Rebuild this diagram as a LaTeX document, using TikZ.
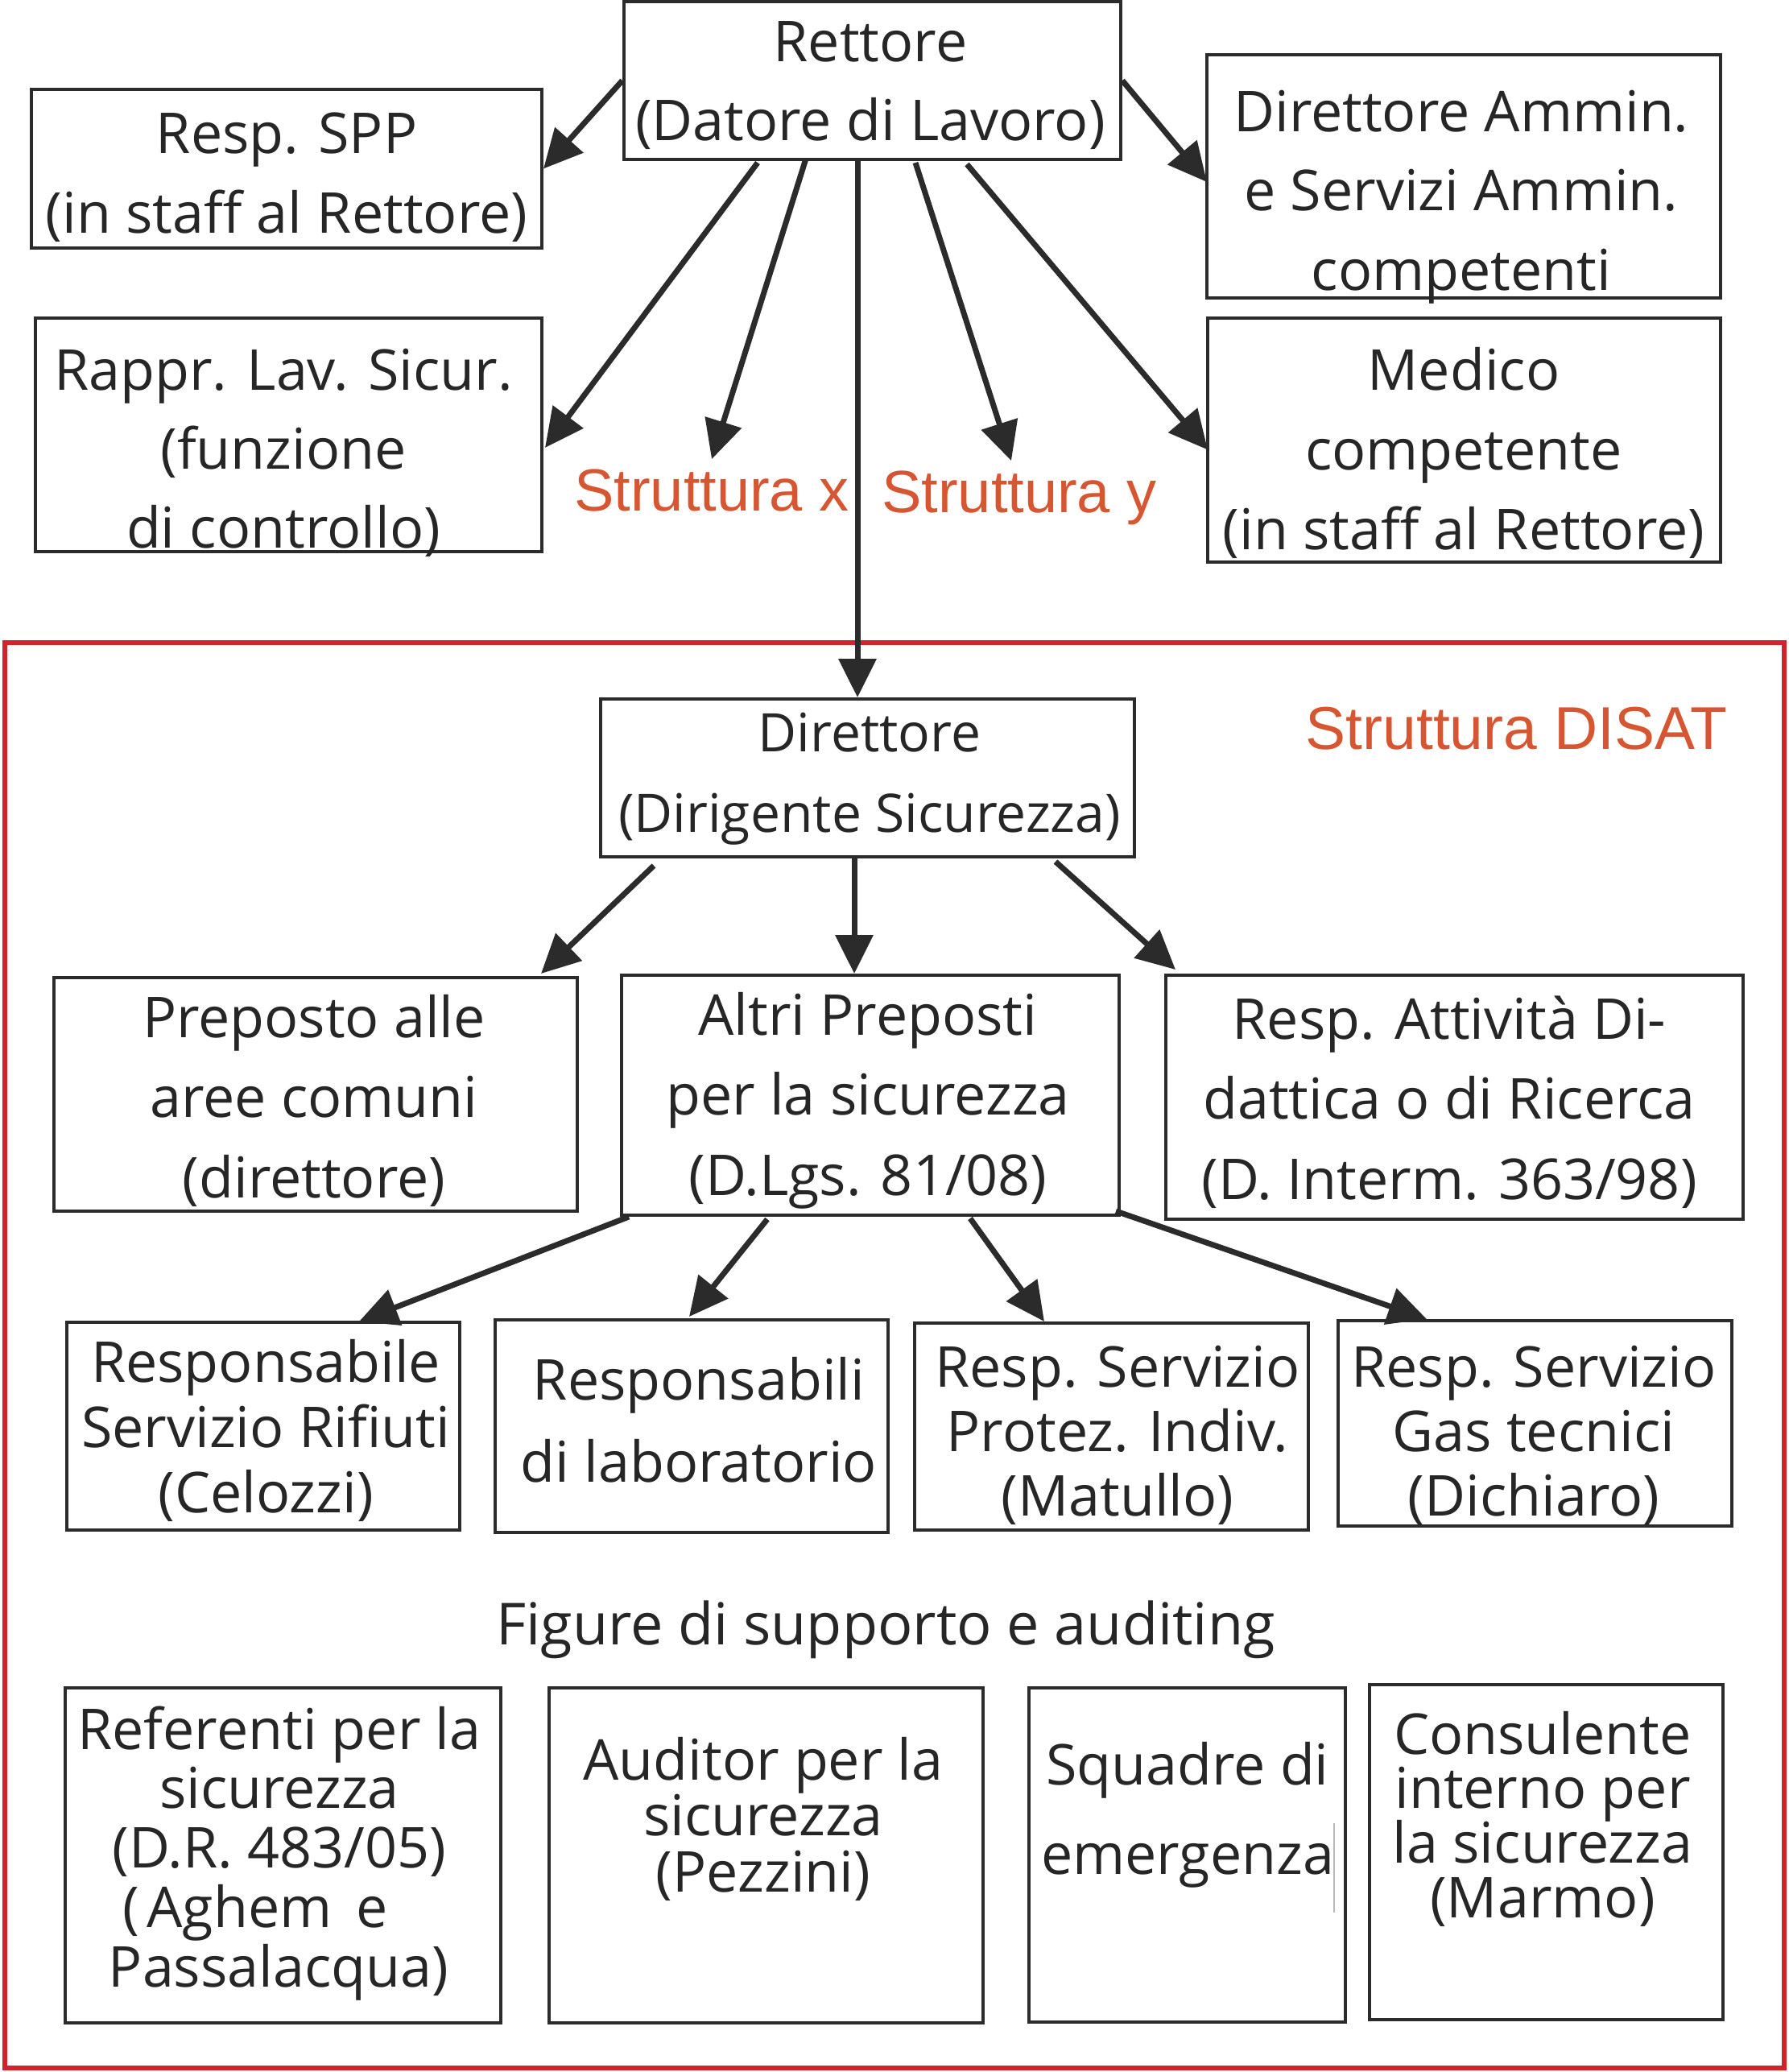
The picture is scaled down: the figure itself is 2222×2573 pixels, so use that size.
\documentclass[tikz,border=0pt]{standalone}
\usepackage{fontspec}
\setmainfont{Open Sans}
\newfontfamily\arialf{Liberation Sans}
\usetikzlibrary{arrows.meta,calc}
\definecolor{lc}{HTML}{2B2B2B}
\definecolor{tc}{HTML}{262626}
\definecolor{oc}{RGB}{215,86,50}
\definecolor{rc}{RGB}{210,35,45}
\lineskiplimit=-200pt
\lineskip=0pt
\newcommand\tb[6][70]{\node[txt,font=\fontsize{#1}{#5}\selectfont] (#2) at (#3,#4-60) {\rule{0pt}{60pt}#6};}
\begin{document}
\begin{tikzpicture}[x=1pt,y=-1pt,
  box/.style={draw=lc, line width=4pt, rectangle, inner sep=0pt},
  txt/.style={text=tc, align=center, inner sep=0pt, anchor=north},
  conn/.style={draw=lc, line width=7pt, -{Triangle[length=48pt,width=46pt]}},
  orange/.style={text=oc, font=\arialf\fontsize{74}{80}\selectfont, inner sep=12pt, anchor=base}]
\useasboundingbox (0,0) rectangle (2222,2573);
% red frame
\draw[rc, line width=6pt] (6,798) rectangle (2216,2568);
% boxes
\node[box, minimum width=617pt, minimum height=196pt] (rettore) at (1083.5,100) {};
\node[box, minimum width=634pt, minimum height=197pt] (spp) at (356,209.5) {};
\node[box, minimum width=629pt, minimum height=290pt] (rappr) at (358.5,540) {};
\node[box, minimum width=638pt, minimum height=302pt] (dirammin) at (1818,219) {};
\node[box, minimum width=637pt, minimum height=303pt] (medico) at (1818.5,546.5) {};
\node[box, minimum width=663pt, minimum height=196pt] (direttore) at (1077.5,966) {};
\node[box, minimum width=650pt, minimum height=290pt] (preposto) at (392,1359) {};
\node[box, minimum width=618pt, minimum height=298pt] (altri) at (1081,1360) {};
\node[box, minimum width=717pt, minimum height=303pt] (respatt) at (1806.5,1362.5) {};
\node[box, minimum width=488pt, minimum height=258pt] (rifiuti) at (327,1771) {};
\node[box, minimum width=488pt, minimum height=264pt] (lab) at (859,1771) {};
\node[box, minimum width=489pt, minimum height=257pt] (protez) at (1380.5,1771.5) {};
\node[box, minimum width=489pt, minimum height=255pt] (gas) at (1906.5,1767.5) {};
\node[box, minimum width=541pt, minimum height=416pt] (referenti) at (351.5,2304) {};
\node[box, minimum width=539pt, minimum height=416pt] (auditor) at (951.5,2304) {};
\node[box, minimum width=393pt, minimum height=415pt] (squadre) at (1474.5,2303.5) {};
\node[box, minimum width=439pt, minimum height=416pt] (consulente) at (1920.5,2300) {};
% texts
\tb{trettore}{1081}{76}{98}{Rettore\\(Datore di Lavoro)}
\tb{tspp}{356}{190}{99}{Resp. SPP\\(in staff al Rettore)}
\tb{trappr}{352}{484}{98}{Rappr. Lav. Sicur.\\(funzione\\di controllo)}
\tb{tdirammin}{1815}{163}{98.5}{Direttore Ammin.\\e Servizi Ammin.\\competenti}
\tb{tmedico}{1818}{484}{99}{Medico\\competente\\(in staff al Rettore)}
\tb[66]{tdirettore}{1080}{933}{100}{Direttore\\(Dirigente Sicurezza)}
\tb{tpreposto}{390}{1288}{99.5}{Preposto alle\\aree comuni\\(direttore)}
\tb{taltri}{1078}{1285}{99.5}{Altri Preposti\\per la sicurezza\\(D.Lgs. 81/08)}
\tb{trespatt}{1800}{1290}{99.5}{Resp. Attività Di-\\dattica o di Ricerca\\(D. Interm. 363/98)}
\tb{trifiuti}{330}{1716}{81}{Responsabile\\Servizio Rifiuti\\(Celozzi)}
\tb{tlab}{868}{1738}{102}{Responsabili\\di laboratorio}
\tb{tprotez}{1388}{1722}{80}{Resp. Servizio\\Protez. Indiv.\\(Matullo)}
\tb{tgas}{1905}{1722}{80}{Resp. Servizio\\Gas tecnici\\(Dichiaro)}
\tb{treferenti}{347}{2172}{73.75}{Referenti per la\\sicurezza\\(D.R. 483/05)\\(\kern10pt Aghem\kern30pt e\kern60pt\\Passalacqua)\kern2pt}
\tb{tauditor}{948}{2210}{69.5}{Auditor per la\\sicurezza\\(Pezzini)}
\tb{tsquadre}{1475}{2216}{111}{Squadre di\\emergenza}
\tb{tconsulente}{1916}{2178}{67.7}{Consulente\\interno per\\la sicurezza\\(Marmo)}
\node[text=tc, font=\fontsize{72}{80}\selectfont, inner sep=0pt, anchor=base] (figure) at (1100,2042) {Figure di supporto e auditing};
% orange labels
\node[orange] (strx) at (884,634) {Struttura x};
\node[orange] (stry) at (1266,636) {Struttura y};
\node[orange, font=\arialf\fontsize{75}{80}\selectfont] (disat) at (1883.5,930) {Struttura DISAT};
% thin mark in Squadre box
\draw[gray!55, line width=1.5pt] (1657,2264) -- (1657,2375);
% connectors
\draw[conn] (rettore.west) -- (spp.east);
\draw[conn] ($(rettore.south west)+(168,2)$) -- ($(rappr.north east)+(2,163)$);
\draw[conn] ($(rettore.south west)+(228,-3)$) -- (strx.north);
\draw[conn] ($(rettore.south west)+(364,2)$) -- ($(stry.north)+(-10,0)$);
\draw[conn] ($(rettore.south west)+(428,4)$) -- ($(medico.west)+(2,12)$);
\draw[conn] (rettore.east) -- ($(dirammin.west)+(2,7)$);
\draw[conn] ($(rettore.south west)+(292,0)$) -- ($(direttore.north west)+(321,0)$);
\draw[conn] ($(direttore.south west)+(68,9)$) -- ($(preposto.north east)+(-47,-3)$);
\draw[conn] ($(direttore.south west)+(317,0)$) -- ($(altri.north west)+(291,0)$);
\draw[conn] ($(direttore.south east)+(-100,4)$) -- ($(respatt.north west)+(14,-5)$);
\draw[conn] ($(altri.south west)+(11,0)$) -- ($(rifiuti.north west)+(365,1)$);
\draw[conn] ($(altri.south west)+(183,3)$) -- ($(lab.north west)+(243,-2)$);
\draw[conn] ($(altri.south west)+(435,2)$) -- ($(protez.north west)+(163,0)$);
\draw[conn] ($(altri.south east)+(-6,-7)$) -- ($(gas.north west)+(112,0)$);
\end{tikzpicture}
\end{document}
